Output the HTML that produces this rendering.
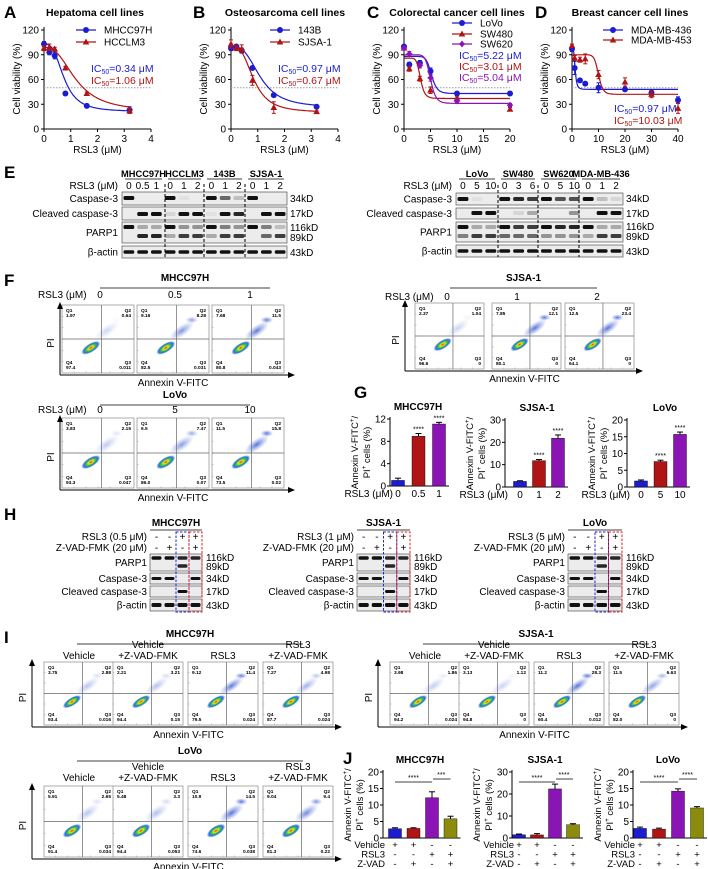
<!DOCTYPE html>
<html><head><meta charset="utf-8"><style>
html,body{margin:0;padding:0;background:#fff}
svg{display:block;font-family:"Liberation Sans",Arial,sans-serif}
</style></head><body>
<svg id="fig" xmlns="http://www.w3.org/2000/svg" width="708" height="869" viewBox="0 0 708 869">
<defs>
<radialGradient id="dens" cx="50%" cy="50%" r="50%">
<stop offset="0" stop-color="#e8201a"/><stop offset="0.25" stop-color="#f5e31c"/><stop offset="0.5" stop-color="#2fc44a"/><stop offset="0.75" stop-color="#2a6fe0"/><stop offset="1" stop-color="#3a5ee0" stop-opacity="0"/>
</radialGradient>
<radialGradient id="tail" cx="50%" cy="50%" r="50%">
<stop offset="0" stop-color="#3050d0" stop-opacity="0.8"/><stop offset="1" stop-color="#6080e0" stop-opacity="0"/>
</radialGradient>
</defs>
</svg>
<script>
// ---------- Dose-response data ----------
const aX=[0,0.2,0.4,0.8,1.6,3.2];
const aMHCC=[103,93,89,43,28,23];
const aHCC=[98,99,97,74,43,22];
const aErrM=[3,3,4,1,1,4];
const aErrH=[3,4,2,2,2,3];
const aFitM=[103,21,0.75,3];
const aFitH=[99,21,1.2,2.6];
const bX=[0,0.2,0.4,0.8,1.6,3.2];
const b143=[98,100,95,74,41,27];
const bSJSA=[103,98,97,59,26,21];
const bErr1=[3,2,3,2,2,1];
const bErr2=[5,3,5,6,7,1];
const bFit1=[100,26,1.1,3];
const bFit2=[101,20,0.85,3];
const cX=[0,1,3,5,10,20];
const cLoVo=[100,78,80,70,43,43];
const cSW480=[98,73,61,47,37,24];
const cSW620=[98,91,77,62,34,29];
const cErr=[2,3,3,4,2,2];
const cFitL=[88,43,5.2,10];
const cFit480=[86,37,3.1,8];
const cFit620=[90,31,5.0,10];
const dX=[0,1,3,5,10,20,30,40];
const d436=[97,74,59,55,50,48,44,35];
const d453=[101,86,84,85,66,57,42,25];
const dErr1=[3,8,2,2,6,2,3,4];
const dErr2=[2,3,3,6,5,5,4,6];
const dFit1=[97,48,1.2,4];
const dFit2=[90,42,10,12];
const yTicksCV=[0,30,60,90,120];
// ---------- Bar data ----------
const gCats1=['0','0.5','1'], gVals1=[1.0,8.9,11.1], gErr1=[0.4,0.5,0.3];
const gCats2=['0','1','2'], gVals2=[2.5,11.8,21.8], gErr2=[0.3,0.5,1.5];
const gCats3=['0','5','10'], gVals3=[1.8,7.6,15.7], gErr3=[0.3,0.4,0.7];
const jVals1=[2.8,2.9,12.2,5.8], jErr1=[0.3,0.2,1.8,0.8];
const jVals2=[1.5,1.4,22.3,6.0], jErr2=[0.3,0.6,2.2,0.5];
const jVals3=[2.9,2.7,14.2,9.1], jErr3=[0.4,0.3,0.7,0.4];
const jVeh=['+','+','-','-'], jRSL=['-','-','+','+'], jZ=['-','+','-','+'];
// ---------- Flow data ----------
const fMHCC=[[1.97,0.64,97.4,0.011],[9.16,8.28,82.5,0.031],[7.68,11.5,80.8,0.043]];
const fSJSA=[[2.37,1.04,96.6,0],[7.85,12.1,80.1,0],[12.5,23.4,64.1,0]];
const fLoVo=[[3.83,2.15,93.3,0.047],[6.50,7.47,86.0,0.070],[11.5,15.8,73.5,0.020]];
const iMHCC=[[3.75,2.88,93.4,0.016],[2.21,3.21,94.4,0.15],[9.12,11.4,79.5,0.024],[7.27,4.98,87.7,0.024]];
const iSJSA=[[3.98,1.86,94.2,0.024],[3.13,1.12,94.8,0],[11.2,28.3,60.4,0.012],[11.5,6.63,82.0,0]];
const iLoVo=[[5.91,2.65,91.4,0.034],[5.48,3.30,94.4,0.053],[10.9,14.5,74.6,0.038],[9.04,9.40,81.3,0.22]];

const NS='http://www.w3.org/2000/svg';
const svg=document.getElementById('fig');
const BLUE='#1c1cd0',RED='#b01515',PUR='#8a14b4',OLV='#8c8c0c';
function mk(tag,attrs,name,parent){
 const e=document.createElementNS(NS,tag);
 for(const k in attrs)e.setAttribute(k,attrs[k]);
 
 
 (parent||svg).appendChild(e);return e;}
function tx(x,y,s,o,name){o=o||{};
 const e=mk('text',{x:x,y:y,'font-size':o.fs||10,'text-anchor':o.a||'start','font-weight':o.w||'normal',fill:o.c||'#000'},name);
 if(o.rot)e.setAttribute('transform','rotate(-90 '+x+' '+y+')');
 if(o.html)e.innerHTML=s;else e.textContent=s;return e;}
function ln(x1,y1,x2,y2,o,name){o=o||{};return mk('line',{x1:x1,y1:y1,x2:x2,y2:y2,stroke:o.c||'#000','stroke-width':o.w||1,'stroke-dasharray':o.d||'none'},name);}

// ---------- Dose panels ----------
function dosePanel(P){
 const yS=v=>129-v/120*99, xS=v=>P.x0+v/P.xmax*(P.x1-P.x0);
 tx(P.lx,18,P.letter,{fs:17,w:'bold'},'panel-letter-'+P.letter);
 tx(P.tx,16,P.title,{fs:10.5,w:'bold',a:'middle'},'panel-title');
 ln(P.x0,27,P.x0,129,{},'y-axis');ln(P.x0,129,P.x1,129,{},'x-axis');
 yTicksCV.forEach(t=>{ln(P.x0-3,yS(t),P.x0,yS(t),{},'y-tick');tx(P.x0-5,yS(t)+3.5,String(t),{fs:10,a:'end'},'y-tick-label');});
 P.xticks.forEach(t=>{ln(xS(t),129,xS(t),132,{},'x-tick');tx(xS(t),142,String(t),{fs:10,a:'middle'},'x-tick-label');});
 tx((P.x0+P.x1)/2,153,'RSL3 (μM)',{fs:10,a:'middle'},'x-axis-title');
 tx(P.x0-24,79,'Cell viability (%)',{fs:10,a:'middle',rot:1},'y-axis-title');
 ln(P.x0,yS(50),P.x1,yS(50),{c:'#999',d:'1.5 1.5'},'ic50-reference-line');
 P.series.forEach((s,si)=>{
  let d='';const f=s.fit;
  for(let k=0;k<=120;k++){const xv=s.x[s.x.length-1]*k/120;const yv=f[1]+(f[0]-f[1])/(1+Math.pow(xv/f[2],f[3]));d+=(k?'L':'M')+xS(xv).toFixed(1)+','+yS(yv).toFixed(1);}
  mk('path',{d:d,fill:'none',stroke:s.c,'stroke-width':1.2},'fit-curve-'+s.n);
  s.x.forEach((xv,i)=>{const X=xS(xv),Y=yS(s.y[i]),E=s.e[i]*99/120;
   ln(X,Y-E,X,Y+E,{c:s.c},'error-bar');ln(X-2,Y-E,X+2,Y-E,{c:s.c},'error-cap');ln(X-2,Y+E,X+2,Y+E,{c:s.c},'error-cap');
   marker(X,Y,s.m,s.c,'point-'+s.n);});
  const L=P.leg[si];
  ln(L[0],L[1],L[0]+20,L[1],{c:s.c,w:1.2},'legend-line');marker(L[0]+10,L[1],s.m,s.c,'legend-marker');
  tx(L[0]+28,L[1]+3.5,s.n,{fs:10},'legend-entry-'+s.n);
  const I=P.ic[si];tx(I[0],I[1],'IC<tspan font-size="7" dy="2">50</tspan><tspan dy="-2">='+s.ic+' μM</tspan>',{fs:10.5,c:s.c,html:1},'ic50-label-'+s.n);
 });}
function marker(X,Y,m,c,name){
 if(m==='c')mk('circle',{cx:X,cy:Y,r:3,fill:c},name);
 else if(m==='t')mk('path',{d:`M${X},${Y-3.5}L${X+3.3},${Y+2.5}L${X-3.3},${Y+2.5}Z`,fill:c},name);
 else mk('path',{d:`M${X},${Y-3.5}L${X+2},${Y-1}L${X+3.5},${Y}L${X+2},${Y+1}L${X},${Y+3.5}L${X-2},${Y+1}L${X-3.5},${Y}L${X-2},${Y-1}Z`,fill:c},name);}
dosePanel({letter:'A',lx:4,tx:95,title:'Hepatoma cell lines',x0:44,x1:151,xmax:4,xticks:[0,1,2,3,4],
 series:[{n:'MHCC97H',x:aX,y:aMHCC,e:aErrM,fit:aFitM,c:BLUE,m:'c',ic:'0.34'},{n:'HCCLM3',x:aX,y:aHCC,e:aErrH,fit:aFitH,c:RED,m:'t',ic:'1.06'}],
 leg:[[76,30],[76,42]],ic:[[91,72],[91,84]]});
dosePanel({letter:'B',lx:193,tx:285,title:'Osteosarcoma cell lines',x0:231,x1:338,xmax:4,xticks:[0,1,2,3,4],
 series:[{n:'143B',x:bX,y:b143,e:bErr1,fit:bFit1,c:BLUE,m:'c',ic:'0.97'},{n:'SJSA-1',x:bX,y:bSJSA,e:bErr2,fit:bFit2,c:RED,m:'t',ic:'0.67'}],
 leg:[[270,30],[270,42]],ic:[[278,72],[278,84]]});
dosePanel({letter:'C',lx:367,tx:457,title:'Colorectal cancer cell lines',x0:404,x1:510,xmax:20,xticks:[0,5,10,15,20],
 series:[{n:'LoVo',x:cX,y:cLoVo,e:cErr,fit:cFitL,c:BLUE,m:'c',ic:'5.22'},{n:'SW480',x:cX,y:cSW480,e:cErr,fit:cFit480,c:RED,m:'t',ic:'3.01'},{n:'SW620',x:cX,y:cSW620,e:cErr,fit:cFit620,c:PUR,m:'s',ic:'5.04'}],
 leg:[[452,23],[452,34],[452,44]],ic:[[459,59],[459,70],[459,81]]});
dosePanel({letter:'D',lx:535,tx:630,title:'Breast cancer cell lines',x0:572,x1:678,xmax:40,xticks:[0,10,20,30,40],
 series:[{n:'MDA-MB-436',x:dX,y:d436,e:dErr1,fit:dFit1,c:BLUE,m:'c',ic:'0.97'},{n:'MDA-MB-453',x:dX,y:d453,e:dErr2,fit:dFit2,c:RED,m:'t',ic:'10.03'}],
 leg:[[603,30],[603,40]],ic:[[614,112],[614,124]]});

// ---------- Blots ----------
function blot(x0,x1,rows,lanes,dashes,name){
 const lw=(x1-x0)/lanes;
 rows.forEach(r=>{
  mk('rect',{x:x0,y:r.y0,width:x1-x0,height:r.y1-r.y0,fill:r.bg||'#ececec',stroke:'#555','stroke-width':0.7},name+'-row');
  r.b.forEach((band,bi)=>{band.forEach((v,i)=>{if(v<=0.02)return;
   mk('rect',{x:x0+i*lw+1.5,y:r.by[bi]-r.bh/2,width:lw-3,height:r.bh,rx:1.5,fill:'#111','fill-opacity':v},name+'-band');});});
 });
 dashes.forEach(d=>ln(d,rows[0].y0-8,d,rows[rows.length-1].y1,{d:'3 2',w:1},name+'-divider'));}
function rowLabels(xr,xk,rows){rows.forEach(r=>{tx(xr,(r.y0+r.y1)/2+3.5,r.l,{fs:10,a:'end'},'blot-row-label');
 r.k.forEach((k,i)=>tx(xk,r.ky[i],k,{fs:10},'molecular-weight-label'));});}
tx(4,178,'E',{fs:17,w:'bold'},'panel-letter-E');
const eL=[
 {y0:192,y1:205,l:'Caspase-3',k:['34kD'],ky:[202],bh:4,by:[198],b:[[1,0,0,1,0.05,0,1,0.6,0.2,1,0,0]]},
 {y0:207,y1:220,l:'Cleaved caspase-3',k:['17kD'],ky:[217],bh:4,by:[214],b:[[0,1,1,0.1,1,1,0.05,1,0.9,0,1,1]]},
 {y0:222,y1:243,l:'PARP1',k:['116kD','89kD'],ky:[231,241],bh:4,by:[227,236],b:[[1,0.3,0.3,1,0.4,0.4,1,0.5,0.4,1,0.5,0.2],[0,0.9,0.9,0.3,0.8,0.8,0.3,0.8,0.8,0,0.6,0.8]]},
 {y0:246,y1:258,l:'β-actin',k:['43kD'],ky:[256],bh:3.5,by:[252],b:[[1,1,1,1,1,1,1,1,1,1,1,1]]}];
blot(122,287,eL,12,[165,204,245],'blot-e-left');rowLabels(118,290,eL);
const eR=[
 {y0:193,y1:205,l:'Caspase-3',k:['34kD'],ky:[202],bh:4,by:[199],b:[[1,0.05,0,1,0.9,0.8,1,0.7,0.7,1,0.2,0.1]]},
 {y0:208,y1:219,l:'Cleaved caspase-3',k:['17kD'],ky:[217],bh:4,by:[213],b:[[0,1,1,0,0.1,0.3,0,0,0.4,0,1,1]]},
 {y0:222,y1:242,l:'PARP1',k:['116kD','89kD'],ky:[230,240],bh:4,by:[227,236],b:[[1,0.3,0.3,1,0.8,0.8,1,0.9,0.9,1,0.3,0.3],[0.5,0.8,0.8,0.6,0.6,0.6,0.4,0.4,0.4,0.3,0.8,0.8]]},
 {y0:245,y1:257,l:'β-actin',k:['43kD'],ky:[255],bh:3.5,by:[251],b:[[1,1,1,1,1,1,1,1,1,1,1,1]]}];
blot(456,623,eR,12,[498,538,579],'blot-e-right');rowLabels(452,626,eR);
function laneHeads(x0,x1,vals,y){const lw=(x1-x0)/vals.length;vals.forEach((v,i)=>tx(x0+lw*(i+0.5),y,v,{fs:10,a:'middle'},'lane-label'));}
tx(118,189,'RSL3 (μM)',{fs:10,a:'end'},'rsl3-row-label');laneHeads(122,287,['0','0.5','1','0','1','2','0','1','2','0','1','2'],189);
tx(452,189,'RSL3 (μM)',{fs:10,a:'end'},'rsl3-row-label');laneHeads(456,623,['0','5','10','0','3','6','0','5','10','0','1','2'],189);
[['MHCC97H',122,165],['HCCLM3',165,204],['143B',204,245],['SJSA-1',245,287],['LoVo',456,498],['SW480',498,538],['SW620',538,579],['MDA-MB-436',579,623]].forEach(c=>{
 tx((c[1]+c[2])/2,177,c[0],{fs:9.3,w:'bold',a:'middle'},'cell-line-header');ln(c[1]+3,179,c[2]-3,179,{w:0.8},'header-underline');});

// ---------- Flow plots ----------
function flow(x,y,w,h,q,name){
 mk('rect',{x:x,y:y,width:w,height:h,fill:'#fff',stroke:'#999','stroke-width':0.8},name);
 const qx=x+w*0.55,qy=y+h*0.5;
 for(let k=1;k<6;k++){ln(x+w*k/6,y+h,x+w*k/6,y+h-1.5,{c:'#999',w:0.5},'flow-tick');ln(x,y+h*k/6,x+1.5,y+h*k/6,{c:'#999',w:0.5},'flow-tick');}
 const a=Math.min(1,q[1]/12);
 mk('ellipse',{cx:x+w*0.62,cy:y+h*0.38,rx:w*0.2,ry:h*0.08,fill:'url(#tail)','fill-opacity':0.25+0.75*a,transform:`rotate(-35 ${x+w*0.62} ${y+h*0.38})`},'flow-events-apoptotic');
 mk('ellipse',{cx:x+w*0.76,cy:y+h*0.22,rx:w*0.09,ry:h*0.05,fill:'url(#tail)','fill-opacity':a},'flow-events-q2');
 mk('ellipse',{cx:x+w*0.4,cy:y+h*0.63,rx:w*0.15,ry:h*0.065,fill:'url(#dens)',transform:`rotate(-32 ${x+w*0.4} ${y+h*0.63})`},'flow-density');
 ln(qx,y,qx,y+h,{c:'#666',w:0.7},'quadrant-line-x');ln(x,qy,x+w,qy,{c:'#666',w:0.7},'quadrant-line-y');
 const f={fs:4.8,w:'bold'};
 tx(x+4,y+7,'Q1',f,'q1-label');tx(x+4,y+12,String(q[0]),f,'q1-value');
 tx(x+w-3,y+7,'Q2',{fs:4.8,w:'bold',a:'end'},'q2-label');tx(x+w-3,y+12,String(q[1]),{fs:4.8,w:'bold',a:'end'},'q2-value');
 tx(x+4,y+h-9,'Q4',f,'q4-label');tx(x+4,y+h-4,q[2].toFixed(1),f,'q4-value');
 tx(x+w-3,y+h-9,'Q3',{fs:4.8,w:'bold',a:'end'},'q3-label');tx(x+w-3,y+h-4,String(q[3]),{fs:4.8,w:'bold',a:'end'},'q3-value');}
function flowRow(xs,y,w,h,data,axX,axEnd,pre){
 data.forEach((q,i)=>flow(xs[i],y,w,h,q,pre+'-plot-'+i));
 ln(axX,y+h+2,axEnd-5,y+h+2,{w:1},'flow-x-axis');mk('path',{d:`M${axEnd},${y+h+2}L${axEnd-7},${y+h-1}L${axEnd-7},${y+h+5}Z`},'flow-x-arrow');
 ln(axX,y+h+2,axX,y+3,{w:1},'flow-y-axis');mk('path',{d:`M${axX},${y-3}L${axX-3},${y+4}L${axX+3},${y+4}Z`},'flow-y-arrow');
 tx(axX-6,y+h/2+4,'PI',{fs:10,a:'middle',rot:1},'flow-y-title');
 tx((xs[0]+xs[xs.length-1]+w)/2,y+h+13,'Annexin V-FITC',{fs:10,a:'middle'},'flow-x-title');}
function hdr(x1,x2,y,s){tx((x1+x2)/2,y,s,{fs:10,w:'bold',a:'middle'},'group-title');ln(x1,y+7,x2,y+7,{w:0.8},'group-line');}
tx(4,286,'F',{fs:17,w:'bold'},'panel-letter-F');
hdr(100,270,281,'MHCC97H');tx(38,298,'RSL3 (μM)',{fs:10},'rsl3-row-label');
['0','0.5','1'].forEach((v,i)=>tx([100,175,250][i],298,v,{fs:10,a:'middle'},'dose-label'));
flowRow([62,137,212],305,72,68,fMHCC,60,295,'f-mhcc');
hdr(450,597,281,'SJSA-1');tx(385,300,'RSL3 (μM)',{fs:10},'rsl3-row-label');
['0','1','2'].forEach((v,i)=>tx([447,517,597][i],300,v,{fs:10,a:'middle'},'dose-label'));
flowRow([415,492,565],303,69,66,fSJSA,405,643,'f-sjsa');
hdr(100,250,398,'LoVo');tx(38,413,'RSL3 (μM)',{fs:10},'rsl3-row-label');
['0','5','10'].forEach((v,i)=>tx([100,175,250][i],413,v,{fs:10,a:'middle'},'dose-label'));
flowRow([62,137,212],418,72,70,fLoVo,60,295,'f-lovo');

// ---------- Bar charts ----------
function barChart(B){
 const yS=v=>B.yb-v/B.ymax*(B.yb-B.yt);
 ln(B.ax,B.yt-2,B.ax,B.yb,{},'bar-y-axis');ln(B.ax,B.yb,B.ax+B.start+B.step*(B.vals.length-1)+10,B.yb,{},'bar-x-axis');
 B.ticks.forEach(t=>{ln(B.ax-3,yS(t),B.ax,yS(t),{},'bar-y-tick');tx(B.ax-4,yS(t)+3.5,String(t),{fs:10,a:'end'},'bar-y-tick-label');});
 tx(B.ax-32,(B.yt+B.yb)/2,'Annexin V-FITC<tspan font-size="6" dy="-4">+</tspan><tspan dy="4">/</tspan>',{fs:9.5,a:'middle',rot:1,html:1},'bar-y-title-line1');
 tx(B.ax-20,(B.yt+B.yb)/2,'PI<tspan font-size="6" dy="-4">+</tspan><tspan dy="4"> cells (%)</tspan>',{fs:9.5,a:'middle',rot:1,html:1},'bar-y-title-line2');
 tx(B.tx,B.yt-9,B.title,{fs:10,w:'bold',a:'middle'},'bar-chart-title');
 B.vals.forEach((v,i)=>{const cx=B.ax+B.start+i*B.step,Y=yS(v),E=B.errs[i]/B.ymax*(B.yb-B.yt);
  mk('rect',{x:cx-6.5,y:Y,width:13,height:B.yb-Y,fill:B.cols[i],stroke:'#000','stroke-width':0.4},'bar-'+i);
  ln(cx,Y-E,cx,Y,{},'bar-error');ln(cx-3,Y-E,cx+3,Y-E,{},'bar-error-cap');
  if(B.stars&&B.stars[i])tx(cx,Y-E-2,B.stars[i],{fs:7,a:'middle'},'significance-stars');
  if(B.cats)tx(cx,B.yb+11,B.cats[i],{fs:10,a:'middle'},'bar-category-label');});
 if(B.cats)tx(B.ax+3,B.yb+11,'RSL3 (μM)',{fs:10,a:'end'},'bar-x-title');
 if(B.signs){[['Vehicle',jVeh],['RSL3',jRSL],['Z-VAD',jZ]].forEach((r,k)=>{const yy=B.yb+10+k*9.5;
  tx(B.ax+2,yy,r[0],{fs:9.5,a:'end'},'condition-label');
  r[1].forEach((s,i)=>tx(B.ax+B.start+i*B.step,yy,s,{fs:9.5,a:'middle'},'condition-sign'));});
  const x0=B.ax+B.start,x2=x0+2*B.step,x3=x0+3*B.step;
  ln(x0,B.yt+10,x2,B.yt+10,{w:0.8},'sig-bracket');tx((x0+x2)/2,B.yt+8,'****',{fs:7,a:'middle'},'sig-stars');
  ln(x2+1,B.yt+7,x3,B.yt+7,{w:0.8},'sig-bracket');tx((x2+x3)/2,B.yt+5,B.s2,{fs:7,a:'middle'},'sig-stars');}}
tx(354,398,'G',{fs:17,w:'bold'},'panel-letter-G');
barChart({title:'MHCC97H',tx:418,ax:390,yt:419,yb:486,ymax:12,ticks:[0,4,8,12],start:8,step:20.5,vals:gVals1,errs:gErr1,cols:[BLUE,RED,PUR],cats:gCats1,stars:['','****','****']});
barChart({title:'SJSA-1',tx:537,ax:505,yt:420,yb:487,ymax:30,ticks:[0,10,20,30],start:15,step:19,vals:gVals2,errs:gErr2,cols:[BLUE,RED,PUR],cats:gCats2,stars:['','****','****']});
barChart({title:'LoVo',tx:665,ax:627,yt:420,yb:487,ymax:20,ticks:[0,5,10,15,20],start:14,step:19.5,vals:gVals3,errs:gErr3,cols:[BLUE,RED,PUR],cats:gCats3,stars:['','****','****']});
tx(343,764,'J',{fs:17,w:'bold'},'panel-letter-J');
barChart({title:'MHCC97H',tx:420,ax:383,yt:772,yb:838,ymax:20,ticks:[0,5,10,15,20],start:12,step:18.5,vals:jVals1,errs:jErr1,cols:[BLUE,RED,PUR,OLV],signs:1,s2:'***'});
barChart({title:'SJSA-1',tx:545,ax:512,yt:772,yb:838,ymax:30,ticks:[0,10,20,30],start:7,step:18,vals:jVals2,errs:jErr2,cols:[BLUE,RED,PUR,OLV],signs:1,s2:'****'});
barChart({title:'LoVo',tx:668,ax:633,yt:772,yb:838,ymax:20,ticks:[0,5,10,15,20],start:7,step:19,vals:jVals3,errs:jErr3,cols:[BLUE,RED,PUR,OLV],signs:1,s2:'****'});

// ---------- H blots ----------
tx(4,520,'H',{fs:17,w:'bold'},'panel-letter-H');
const hRows=[
 {y0:554,y1:571,l:'PARP1',k:['116kD','89kD'],ky:[561,570],bh:3.5,by:[558,566],b:[[1,1,0.9,0.9],[0,0,0.9,0]]},
 {y0:573,y1:584,l:'Caspase-3',k:['34kD'],ky:[582],bh:3,by:[578.5],b:[[1,1,0,1]]},
 {y0:586,y1:597,l:'Cleaved caspase-3',k:['17kD'],ky:[595],bh:3,by:[591.5],b:[[0,0,1,0]]},
 {y0:599,y1:611,l:'β-actin',k:['43kD'],ky:[609],bh:4,by:[605],b:[[1,1,1,1]]}];
function hBlot(x0,x1,title,dose,nm){
 blot(x0,x1,hRows,4,[],nm);rowLabels(x0-3,x1+4,hRows);
 tx((x0+x1)/2,526,title,{fs:10,w:'bold',a:'middle'},'blot-title');ln(x0,530,x1,530,{w:0.8},'blot-title-line');
 tx(x0-3,540,'RSL3 ('+dose+' μM)',{fs:10,a:'end'},'rsl3-row-label');tx(x0-3,551,'Z-VAD-FMK (20 μM)',{fs:10,a:'end'},'zvad-row-label');
 const lw=(x1-x0)/4;['-','-','+','+'].forEach((s,i)=>tx(x0+lw*(i+0.5),540,s,{fs:10,a:'middle'},'sign'));
 ['-','+','-','+'].forEach((s,i)=>tx(x0+lw*(i+0.5),551,s,{fs:10,a:'middle'},'sign'));
 mk('rect',{x:x0+2*lw,y:532,width:lw,height:80,fill:'none',stroke:'#2222dd','stroke-dasharray':'2.5 1.5','stroke-width':1},'highlight-box-blue');
 mk('rect',{x:x0+3*lw,y:532,width:lw,height:80,fill:'none',stroke:'#dd2222','stroke-dasharray':'2.5 1.5','stroke-width':1},'highlight-box-red');}
hBlot(150,202,'MHCC97H','0.5','h-mhcc');hBlot(357,410,'SJSA-1','1','h-sjsa');hBlot(568,622,'LoVo','5','h-lovo');

// ---------- I flow ----------
tx(4,643,'I',{fs:17,w:'bold'},'panel-letter-I');
function condHeads(xs,w,y){const L=[['','Vehicle'],['Vehicle','+Z-VAD-FMK'],['','RSL3'],['RSL3','+Z-VAD-FMK']];
 xs.forEach((x,i)=>{if(L[i][0])tx(x+w/2,y-11,L[i][0],{fs:10,a:'middle'},'condition-header');tx(x+w/2,y,L[i][1],{fs:10,a:'middle'},'condition-header');});}
const iX=[44,113,188,263];
hdr(77,303,637,'MHCC97H');condHeads(iX,70,659);
flowRow(iX,662,70,63,iMHCC,32,342,'i-mhcc');
const iX2=iX.map(v=>v+346);
hdr(423,649,637,'SJSA-1');condHeads(iX2,70,659);
flowRow(iX2,662,70,63,iSJSA,378,688,'i-sjsa');
hdr(77,303,754,'LoVo');condHeads(iX,70,781);
flowRow(iX,786,70,71,iLoVo,32,342,'i-lovo');
</script>
</body></html>
